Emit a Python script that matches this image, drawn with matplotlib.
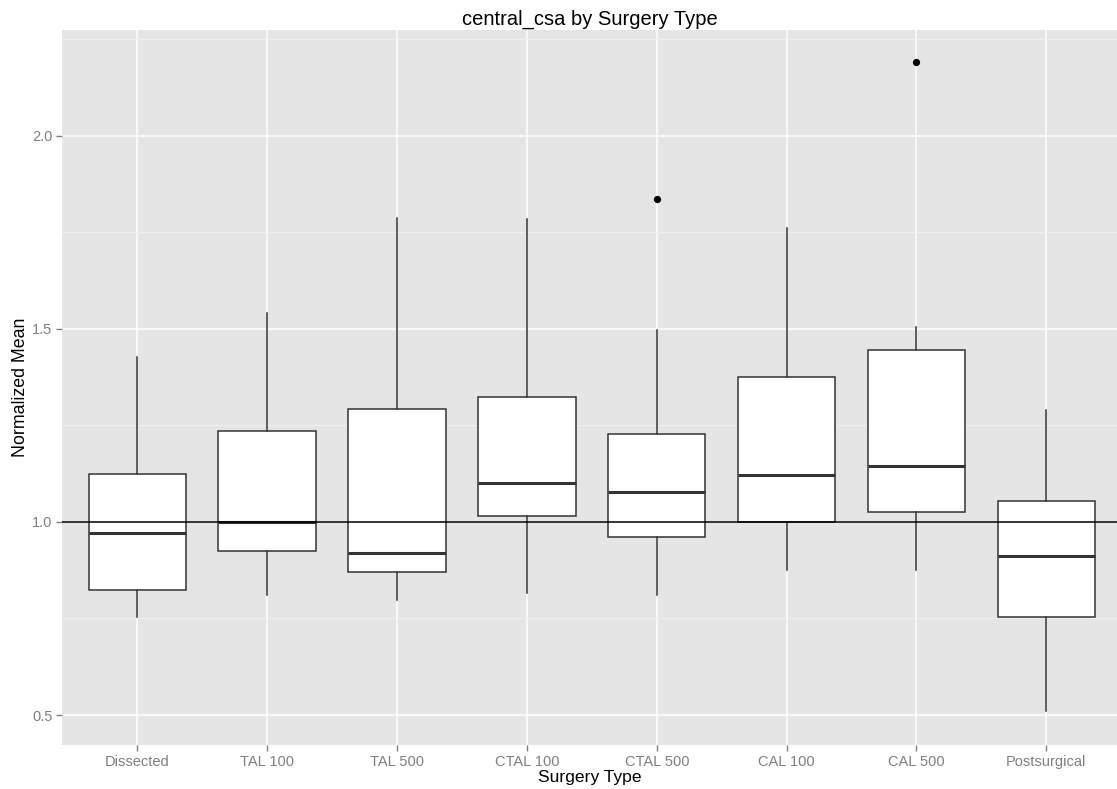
import matplotlib
matplotlib.use("Agg")
import matplotlib.pyplot as plt
from matplotlib.ticker import MultipleLocator

plt.rcParams['font.family'] = ['Liberation Sans', 'DejaVu Sans']

groups = ["Dissected", "TAL 100", "TAL 500", "CTAL 100", "CTAL 500", "CAL 100", "CAL 500", "Postsurgical"]
whislo = [0.754, 0.812, 0.799, 0.816, 0.812, 0.875, 0.875, 0.510]
q1 = [0.825, 0.924, 0.871, 1.016, 0.962, 1.000, 1.025, 0.754]
med = [0.971, 0.999, 0.920, 1.100, 1.078, 1.121, 1.146, 0.911]
q3 = [1.123, 1.236, 1.292, 1.323, 1.229, 1.375, 1.445, 1.053]
whishi = [1.428, 1.542, 1.787, 1.785, 1.498, 1.761, 1.505, 1.291]
outliers = [[], [], [], [], [1.837], [], [2.192], []]

stats = []
for g, lo, a, m, b, hi, fl in zip(groups, whislo, q1, med, q3, whishi, outliers):
    stats.append(dict(label=g, whislo=lo, q1=a, med=m, q3=b, whishi=hi, fliers=fl))

fig = plt.figure(figsize=(11.17, 7.89), dpi=100)
ax = fig.add_axes([62 / 1117, 44 / 789, 1 - 62 / 1117, 715 / 789])
ax.set_facecolor('#E5E5E5')

edge = '#333333'
ax.bxp(stats, positions=range(1, len(groups) + 1), widths=0.75, patch_artist=True,
       showcaps=False,
       boxprops=dict(facecolor='white', edgecolor=edge, linewidth=1.1),
       whiskerprops=dict(color=edge, linewidth=1.1),
       medianprops=dict(color=edge, linewidth=2.2),
       flierprops=dict(marker='o', markerfacecolor='black', markeredgecolor='black', markersize=4.2))

# reference line at the normalised value of 1
ax.axhline(1.0, color='black', linewidth=1.1, zorder=5)

ax.set_xlim(0.42, 8.544)
ax.set_ylim(0.4224, 2.274)
ax.yaxis.set_major_locator(MultipleLocator(0.5))
ax.yaxis.set_minor_locator(MultipleLocator(0.25))
ax.set_xticks(range(1, len(groups) + 1))
ax.set_xticklabels(groups)

ax.set_axisbelow(True)
ax.grid(which='major', color='white', linewidth=1.1)
ax.grid(which='minor', axis='y', color='#F2F2F2', linewidth=0.6)
for s in ax.spines.values():
    s.set_visible(False)
ax.tick_params(which='major', color='#7F7F7F', length=4, width=1, labelcolor='#7F7F7F', labelsize=10.5, pad=3)
ax.tick_params(which='minor', length=0)

ax.set_title("central_csa by Surgery Type", fontsize=14.5, pad=4)
ax.set_xlabel("Surgery Type", fontsize=12.6, labelpad=1)
ax.set_ylabel("Normalized Mean", fontsize=12.8, labelpad=2)

fig.savefig("out.png", dpi=100)
